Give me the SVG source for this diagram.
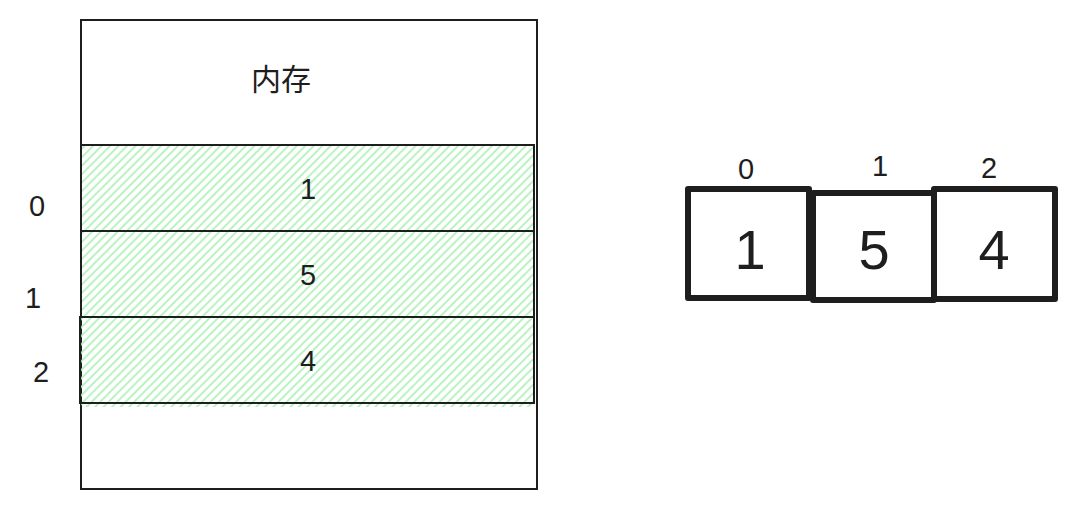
<svg xmlns="http://www.w3.org/2000/svg" width="1075" height="510" viewBox="0 0 1075 510">
<defs>
<pattern id="hatch" width="6" height="6" patternUnits="userSpaceOnUse" patternTransform="rotate(45)">
<line x1="1" y1="0" x2="1" y2="6" stroke="#b2f2bb" stroke-width="1.8"/>
</pattern>
</defs>
<style>
.thin{fill:none;stroke:#1e1e1e;stroke-width:2}
.thick{fill:#fff;stroke:#1e1e1e;stroke-width:6;stroke-linejoin:round}
.t{font-family:"Liberation Sans","Noto Sans CJK SC",sans-serif;fill:#1e1e1e;text-anchor:middle}
.s{font-size:29px}
.b{font-size:56px}
</style>
<rect width="1075" height="510" fill="#fff"/>
<g id="memory">
<rect class="thin" x="81" y="20" width="456" height="469"/>
<text class="t" x="281" y="90" font-size="30">内存</text>
</g>
<rect x="81" y="145" width="454" height="262" fill="url(#hatch)"/>
<g id="row0">
<rect class="thin" x="81" y="145" width="453" height="86"/>
<text class="t s" x="308" y="199">1</text>
</g>
<g id="row1">
<rect class="thin" x="81" y="231" width="453" height="86"/>
<text class="t s" x="308" y="285">5</text>
</g>
<g id="row2">
<rect class="thin" x="80" y="317" width="454" height="86"/>
<text class="t s" x="308" y="371">4</text>
</g>
<g id="leftidx">
<text class="t s" x="37" y="216">0</text>
<text class="t s" x="33" y="308">1</text>
<text class="t s" x="41" y="382">2</text>
</g>
<g id="arr0">
<rect class="thick" x="688" y="189" width="121" height="109"/>
<text class="t b" x="750" y="269">1</text>
<text class="t s" x="746" y="179">0</text>
</g>
<g id="arr1">
<rect class="thick" x="813" y="193" width="121" height="107"/>
<text class="t b" x="874" y="269">5</text>
<text class="t s" x="880" y="176">1</text>
</g>
<g id="arr2">
<rect class="thick" x="934" y="189" width="121" height="110"/>
<text class="t b" x="994" y="269">4</text>
<text class="t s" x="989" y="178">2</text>
</g>
<g id="connectors"></g>
</svg>
